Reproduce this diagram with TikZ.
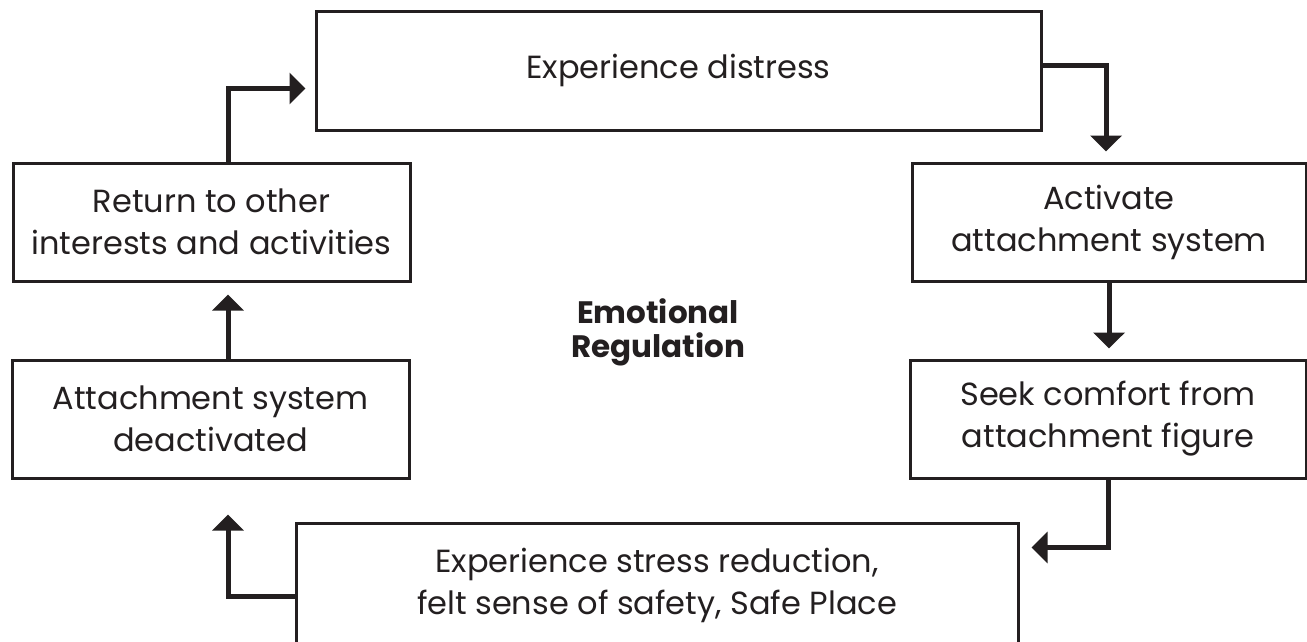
\documentclass[tikz,border=0pt]{standalone}
\usepackage{fontspec}
\setmainfont{Poppins}
\usetikzlibrary{arrows.meta,calc}
\definecolor{ink}{HTML}{231F20}
\tikzset{
  box/.style={draw=ink, line width=3pt, rectangle, inner sep=0pt, align=center,
    text=ink, font=\fontsize{32}{42}\selectfont},
  arr/.style={draw=ink, line width=5pt, -{Triangle[length=16pt,width=31pt]}},
  title/.style={align=center, text=ink, font=\fontsize{31}{34}\selectfont\bfseries}
}
\begin{document}
\begin{tikzpicture}[x=1pt,y=-1pt]
\clip (0,0) rectangle (1307,641);
\fill[white] (0,0) rectangle (1307,641);
\node[box, minimum width=725pt, minimum height=119pt] (top) at (678.5,70.5) {Experience distress};
\node[box, minimum width=397pt, minimum height=118pt] (lt) at (211.5,222) {Return to other\\interests and activities};
\node[box, minimum width=397pt, minimum height=118pt] (lb) at (210.5,419) {Attachment system\\deactivated};
\node[box, minimum width=394pt, minimum height=118pt] (rt) at (1109,222) {Activate\\attachment system};
\node[box, minimum width=396pt, minimum height=118pt] (rb) at (1108,419) {Seek comfort from\\attachment figure};
\node[box, minimum width=722pt, minimum height=124pt] (bot) at (657,585) {Experience stress reduction,\\felt sense of safety, Safe Place};
\node[title] (er) at (658,332) {Emotional\\Regulation};
\coordinate (L) at (228,0);
\draw[arr] (L |- lt.north) |- ($(top.north west)+(-9,79)$);
\draw[arr] ($(top.north east)+(0,56)$) -| ($(rt.north)+(-3,-10)$);
\draw[arr] (rt.south) -- ($(rt.south |- rb.north)+(0,-10)$);
\draw[arr] (rb.south) |- ($(bot.north east)+(12,26)$);
\draw[arr] ($(bot.north west)+(0,75)$) -| ($(L |- lb.south)+(0,35)$);
\draw[arr] (L |- lb.north) -- ($(L |- lt.south)+(0,12)$);
\end{tikzpicture}
\end{document}
